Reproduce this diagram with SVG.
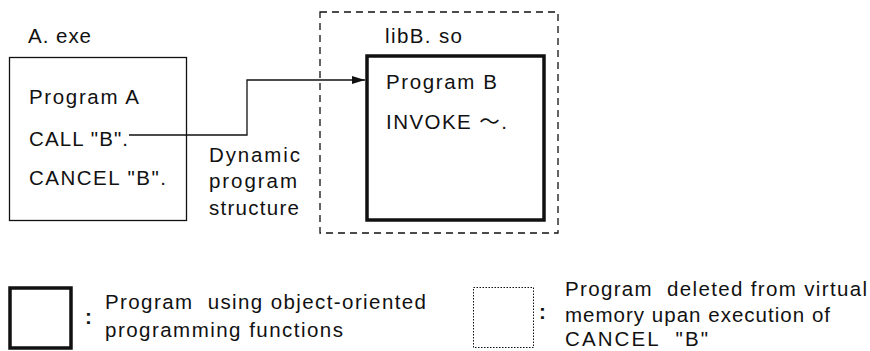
<svg xmlns="http://www.w3.org/2000/svg" width="870" height="351" viewBox="0 0 870 351">
<style>
text{font-family:"Liberation Sans","Noto Sans CJK JP",Arial,sans-serif;font-size:20.5px;fill:#111}
.thin{fill:none;stroke:#111;stroke-width:1.3}
.thick{fill:none;stroke:#111;stroke-width:3.5}
.dash{fill:none;stroke:#111;stroke-width:1.3;stroke-dasharray:7 5}
.dot{fill:none;stroke:#111;stroke-width:1;stroke-dasharray:1.5 1.5}
.colon{font-weight:bold}
</style>
<defs>
<marker id="arr" markerUnits="userSpaceOnUse" viewBox="0 0 13 8" refX="13" refY="4" markerWidth="13" markerHeight="8" orient="auto">
<path d="M0,0 L13,4 L0,8 z" fill="#111"/>
</marker>
</defs>
<rect width="870" height="351" fill="#fff"/>
<g id="libB-container">
<rect class="dash" x="320" y="12" width="238" height="221"/>
<text x="385" y="43" textLength="77" lengthAdjust="spacing">libB. so</text>
</g>
<g id="programA">
<text x="28" y="43" textLength="63" lengthAdjust="spacing">A. exe</text>
<rect class="thin" x="9.5" y="57.5" width="177" height="163"/>
<text x="29" y="104" textLength="110" lengthAdjust="spacing">Program A</text>
<text x="29" y="146" textLength="99" lengthAdjust="spacing">CALL "B".</text>
<text x="29" y="185" textLength="137" lengthAdjust="spacing">CANCEL "B".</text>
</g>
<g id="programB">
<rect class="thick" x="367" y="56" width="177" height="164"/>
<text x="386" y="89" textLength="111" lengthAdjust="spacing">Program B</text>
<text x="386" y="129" textLength="121" lengthAdjust="spacing">INVOKE ～.</text>
</g>
<g id="connectors">
<polyline class="thin" points="129,135 247,135 247,80 365,80" marker-end="url(#arr)"/>
</g>
<g id="dynamic-label">
<text x="209" y="162" textLength="91" lengthAdjust="spacing">Dynamic</text>
<text x="209" y="188" textLength="88" lengthAdjust="spacing">program</text>
<text x="209" y="215" textLength="90" lengthAdjust="spacing">structure</text>
</g>
<g id="legend-oo">
<rect class="thick" x="10" y="288" width="61" height="60"/>
<text class="colon" x="85" y="324">:</text>
<text x="105" y="309" textLength="321" lengthAdjust="spacing" xml:space="preserve">Program  using object-oriented</text>
<text x="105" y="337" textLength="238" lengthAdjust="spacing">programming functions</text>
</g>
<g id="legend-deleted">
<rect class="dot" x="473.5" y="287.5" width="60" height="60"/>
<text class="colon" x="539" y="319">:</text>
<text x="565" y="296" textLength="302" lengthAdjust="spacing" xml:space="preserve">Program  deleted from virtual</text>
<text x="565" y="322" textLength="265" lengthAdjust="spacing">memory upan execution of</text>
<text x="565" y="346" textLength="143" lengthAdjust="spacing" xml:space="preserve">CANCEL  "B"</text>
</g>
</svg>
